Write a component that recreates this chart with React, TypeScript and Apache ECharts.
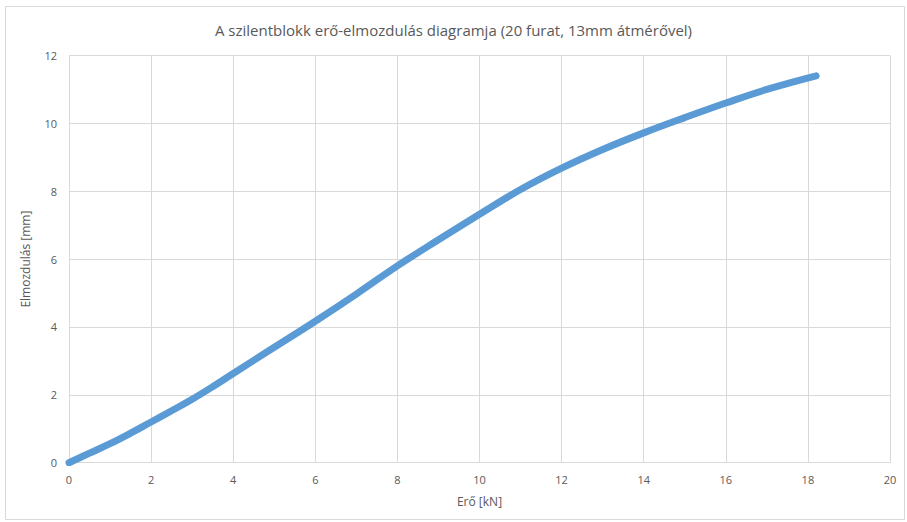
import React, { useEffect, useRef } from "react";
import * as echarts from "echarts";

const forceKN: number[] = [0, 0.5, 1.0, 1.5, 2.0, 2.5, 3.0, 3.5, 4.0, 5.0, 6.0, 7.0, 8.0, 9.0, 10.0, 11.0, 12.0, 13.0, 14.0, 15.0, 16.0, 17.0, 18.2];
const displacementMm: number[] = [0, 0.28, 0.56, 0.87, 1.2, 1.53, 1.87, 2.24, 2.63, 3.4, 4.17, 4.97, 5.8, 6.57, 7.32, 8.05, 8.68, 9.23, 9.72, 10.17, 10.6, 11.0, 11.4];

const titleText = "A szilentblokk erő-elmozdulás diagramja (20 furat, 13mm átmérővel)";
const xName = "Erő [kN]";
const yName = "Elmozdulás [mm]";

export default function App() {
  const ref = useRef<HTMLDivElement>(null);
  useEffect(() => {
    document.body.style.margin = "0";
    if (!ref.current) return;
    const chart = echarts.init(ref.current, null, { renderer: "svg" });
    const data = forceKN.map((x, i) => [x, displacementMm[i]]);
    const font = "'Open Sans', 'Liberation Sans', sans-serif";
    chart.setOption({
      animation: false,
      backgroundColor: "#ffffff",
      title: {
        text: titleText,
        left: "center",
        top: 17,
        textStyle: { fontSize: 15, fontWeight: "normal", color: "#595959", fontFamily: font },
      },
      graphic: [
        {
          type: "rect",
          shape: { x: 5.5, y: 6.5, width: 899, height: 513 },
          style: { fill: "none", stroke: "#d9d9d9", lineWidth: 1 },
          silent: true,
          z: -10,
        },
      ],
      grid: { left: 69, right: 17, top: 55.5, bottom: 59.3 },
      xAxis: {
        type: "value",
        min: 0,
        max: 20,
        interval: 2,
        name: xName,
        nameLocation: "middle",
        nameGap: 33,
        nameTextStyle: { fontSize: 12, color: "#595959", fontFamily: font },
        axisLine: { show: true, lineStyle: { color: "#d9d9d9", width: 1 } },
        axisTick: { show: false },
        axisLabel: { fontSize: 11, color: "#595959", margin: 11, fontFamily: font },
        splitLine: { show: true, lineStyle: { color: "#d9d9d9", width: 1 } },
      },
      yAxis: {
        type: "value",
        min: 0,
        max: 12,
        interval: 2,
        name: yName,
        nameLocation: "middle",
        nameGap: 38,
        nameRotate: 90,
        nameTextStyle: { fontSize: 12, color: "#595959", fontFamily: font },
        axisLine: { show: false },
        axisTick: { show: false },
        axisLabel: { fontSize: 11, color: "#595959", margin: 12, fontFamily: font },
        splitLine: { show: true, lineStyle: { color: "#d9d9d9", width: 1 } },
      },
      series: [
        {
          type: "line",
          data,
          smooth: 0.4,
          showSymbol: false,
          lineStyle: { color: "#5b9bd5", width: 7, cap: "round", join: "round" },
        },
      ],
    });
    return () => chart.dispose();
  }, []);
  return <div ref={ref} style={{ width: 907, height: 522 }} />;
}
